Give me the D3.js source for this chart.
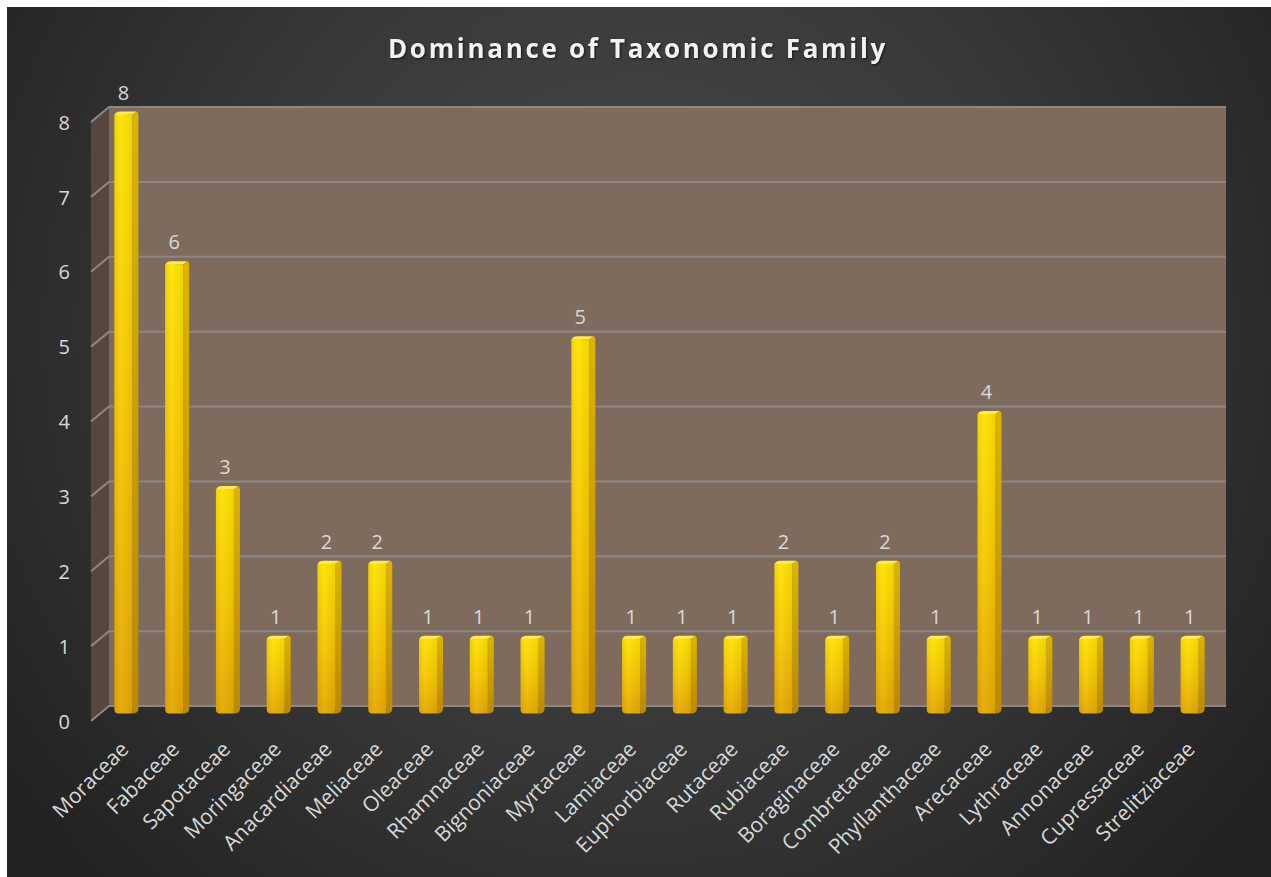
<!DOCTYPE html>
<html><head><meta charset="utf-8">
<script src="https://cdn.jsdelivr.net/npm/d3@7"></script>
<style>
html,body{margin:0;padding:0;background:#ffffff;}
svg{display:block;}
</style></head>
<body>
<svg id="chart" width="1271" height="877"></svg>
<script>
const categories = ["Moraceae","Fabaceae","Sapotaceae","Moringaceae","Anacardiaceae","Meliaceae","Oleaceae","Rhamnaceae","Bignoniaceae","Myrtaceae","Lamiaceae","Euphorbiaceae","Rutaceae","Rubiaceae","Boraginaceae","Combretaceae","Phyllanthaceae","Arecaceae","Lythraceae","Annonaceae","Cupressaceae","Strelitziaceae"];
const counts = [8,6,3,1,2,2,1,1,1,5,1,1,1,2,1,2,1,4,1,1,1,1];
const yTicks = [0,1,2,3,4,5,6,7,8];
const title = "Dominance of Taxonomic Family";

const svg = d3.select("#chart");
const W = 1271, H = 877;
const defs = svg.append("defs");

// background
const bg = defs.append("radialGradient").attr("id","bg").attr("gradientUnits","userSpaceOnUse")
  .attr("cx",640).attr("cy",330).attr("r",760);
bg.append("stop").attr("offset","0").attr("stop-color","#4a4a4a");
bg.append("stop").attr("offset","0.55").attr("stop-color","#383838");
bg.append("stop").attr("offset","1").attr("stop-color","#232323");
svg.append("rect").attr("x",7).attr("y",7).attr("width",W-7).attr("height",H-7).attr("fill","url(#bg)");

// bar gradients
const gFront = defs.append("linearGradient").attr("id","gFront").attr("x1",0).attr("y1",0).attr("x2",0).attr("y2",1);
gFront.append("stop").attr("offset","0").attr("stop-color","#ffe200");
gFront.append("stop").attr("offset","0.5").attr("stop-color","#f7c800");
gFront.append("stop").attr("offset","1").attr("stop-color","#e5a800");
const gFrontH = defs.append("linearGradient").attr("id","gFrontH").attr("x1",0).attr("y1",0).attr("x2",1).attr("y2",0);
gFrontH.append("stop").attr("offset","0").attr("stop-color","#000").attr("stop-opacity",0.06);
gFrontH.append("stop").attr("offset","0.35").attr("stop-color","#fff").attr("stop-opacity",0.06);
gFrontH.append("stop").attr("offset","1").attr("stop-color","#000").attr("stop-opacity",0.06);
const gSide = defs.append("linearGradient").attr("id","gSide").attr("x1",0).attr("y1",0).attr("x2",0).attr("y2",1);
gSide.append("stop").attr("offset","0").attr("stop-color","#dcb400");
gSide.append("stop").attr("offset","1").attr("stop-color","#bb8800");

// geometry
const xL = 109, xR = 1226, yTop = 107, yBase = 706;
const ddx = -18, ddy = 15;
const x = d3.scaleBand().domain(categories).range([xL, xR]);
const y = d3.scaleLinear().domain([0, 8]).range([yBase, yTop]);

// back wall
svg.append("rect").attr("x",xL).attr("y",y(8)).attr("width",xR-xL).attr("height",y(0)-y(8)).attr("fill","#7f6b5e");
// left wall
svg.append("path").attr("d",`M${xL},${y(8)}L${xL},${y(0)}L${xL+ddx},${y(0)+ddy}L${xL+ddx},${y(8)+ddy}Z`).attr("fill","#56463f");

// gridlines
const grid = svg.append("g");
yTicks.forEach(t => {
  grid.append("path")
    .attr("d",`M${xL+ddx},${y(t)+ddy}L${xL},${y(t)}L${xR},${y(t)}`)
    .attr("fill","none").attr("stroke","#8c8784").attr("stroke-width",2);
});

// y axis labels using d3 axis
const yAxisScale = d3.scaleLinear().domain([0,8]).range([yBase+ddy, yTop+ddy]);
const yAxis = svg.append("g").attr("transform",`translate(70,0)`)
  .call(d3.axisLeft(yAxisScale).tickValues(yTicks).tickSize(0).tickPadding(0));
yAxis.select(".domain").remove();
yAxis.selectAll("text").attr("fill","#d9d9d9").style("font-family","'Open Sans', sans-serif").style("font-size","20px").attr("dy","0.36em");

// bars
const fw = 18, sw = 6, sdy = 3;
const bars = svg.append("g");
categories.forEach((c,i) => {
  const v = counts[i];
  const cx = x(c) + x.bandwidth()/2 - 11;
  const x0 = cx - fw/2;
  const yt = y(v) + ddy/2;
  const yb = y(0) + ddy/2;
  const r = 4;
  const g = bars.append("g");
  g.append("path").attr("d",
    `M${x0+fw},${yt}L${x0+fw+sw-2},${yt-sdy}Q${x0+fw+sw},${yt-sdy+1} ${x0+fw+sw},${yt-sdy+3}L${x0+fw+sw},${yb-sdy-2}Q${x0+fw+sw},${yb} ${x0+fw},${yb}Z`)
    .attr("fill","url(#gSide)");
  g.append("path").attr("d",
    `M${x0},${yt+1}Q${x0+1},${yt-sdy} ${x0+sw},${yt-sdy}L${x0+fw+sw-2},${yt-sdy}L${x0+fw},${yt}Z`)
    .attr("fill","#ffe95a");
  const front = `M${x0},${yt+1}Q${x0},${yt} ${x0+r},${yt}L${x0+fw},${yt}L${x0+fw},${yb}L${x0+r},${yb}Q${x0},${yb} ${x0},${yb-r}Z`;
  g.append("path").attr("d",front).attr("fill","url(#gFront)");
  g.append("path").attr("d",front).attr("fill","url(#gFrontH)");
  g.append("text").attr("x",cx).attr("y",yt-15).attr("text-anchor","middle")
    .attr("fill","#d9d9d9").style("font-family","'Open Sans', sans-serif").style("font-size","20px").text(v);
});

// x labels
const xl = svg.append("g");
categories.forEach((c) => {
  const bc = x(c) + x.bandwidth()/2;
  xl.append("text").attr("transform",`translate(${bc-15},740) rotate(-45)`)
    .attr("text-anchor","end").attr("dy","0.71em")
    .attr("fill","#d9d9d9").style("font-family","'Open Sans', sans-serif").style("font-size","21px").text(c);
});

// title
svg.append("text").attr("x",638).attr("y",58).attr("text-anchor","middle")
  .attr("fill","#f2f2f2").style("font-family","'Open Sans', sans-serif").style("font-weight","bold")
  .style("font-size","26px").style("letter-spacing","2.7px")
  .style("filter","drop-shadow(1px 1px 1px rgba(0,0,0,0.6))").text(title);
</script>
</body></html>
